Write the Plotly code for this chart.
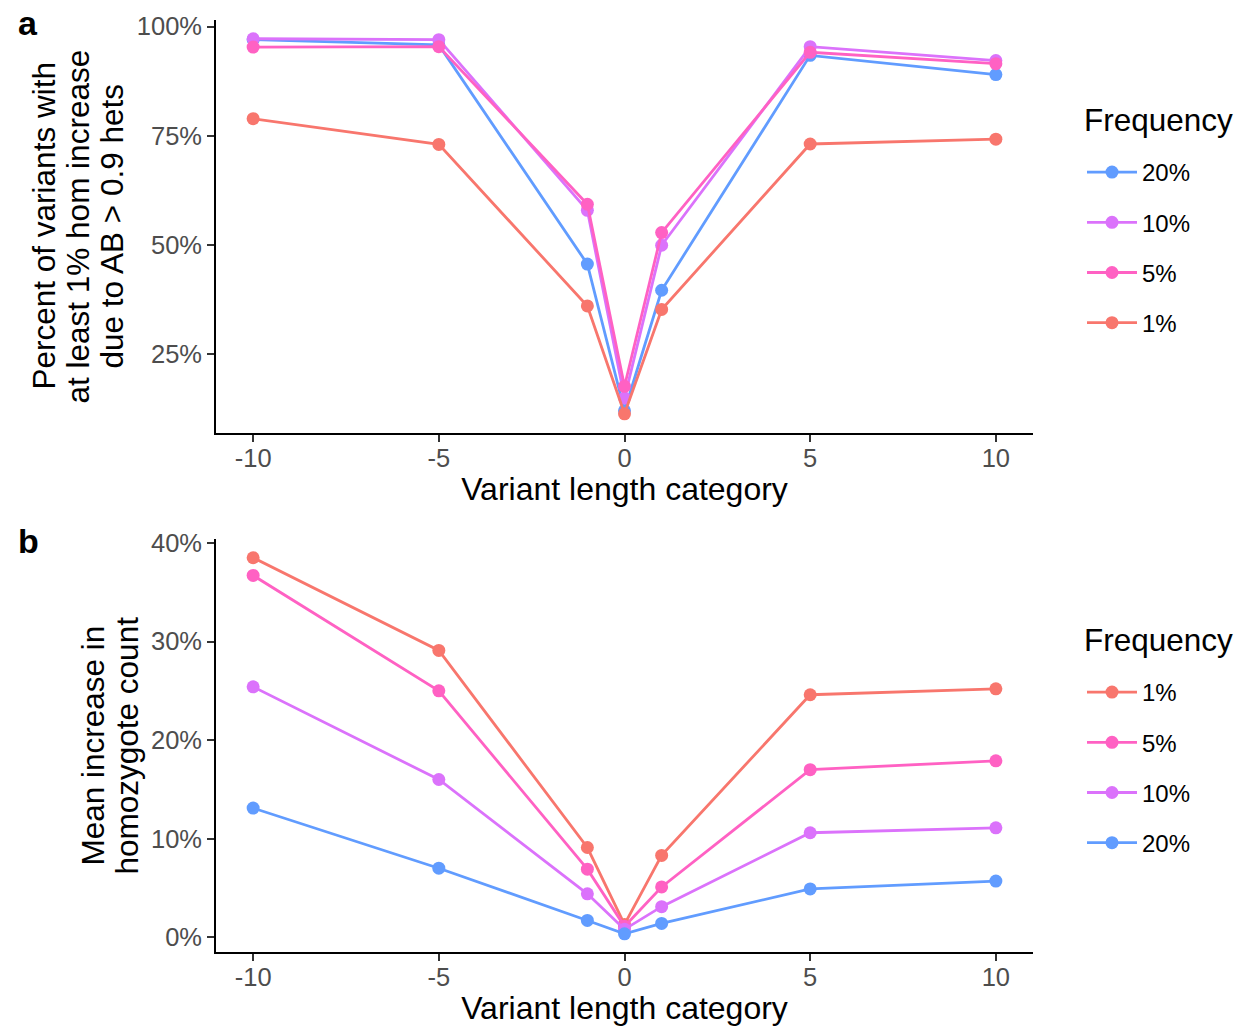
import plotly.graph_objects as go

# ---- data ----
x_cat = [-10, -5, -1, 0, 1, 5, 10]

colors = {"1%": "#F8766D", "5%": "#FF61C3", "10%": "#DB72FB", "20%": "#619CFF"}

# Panel a: percent of variants with at least 1% hom increase due to AB > 0.9 hets
pct_a_20 = [97.0, 95.8, 45.6, 12.0, 39.6, 93.4, 89.0]
pct_a_10 = [97.2, 97.0, 57.9, 14.9, 49.9, 95.4, 92.2]
pct_a_5 = [95.3, 95.4, 59.3, 17.6, 52.8, 94.1, 91.5]
pct_a_1 = [78.9, 73.0, 36.0, 11.3, 35.2, 73.1, 74.2]

# Panel b: mean increase in homozygote count
mean_b_1 = [38.5, 29.1, 9.1, 1.3, 8.3, 24.6, 25.2]
mean_b_5 = [36.7, 25.0, 6.9, 1.1, 5.1, 17.0, 17.9]
mean_b_10 = [25.4, 16.0, 4.4, 0.8, 3.1, 10.6, 11.1]
mean_b_20 = [13.1, 7.0, 1.7, 0.34, 1.4, 4.9, 5.7]

x_ticks = [-10, -5, 0, 5, 10]
ya_ticks = [25, 50, 75, 100]
yb_ticks = [0, 10, 20, 30, 40]

series_a = [("20%", pct_a_20), ("10%", pct_a_10), ("5%", pct_a_5), ("1%", pct_a_1)]
series_b = [("1%", mean_b_1), ("5%", mean_b_5), ("10%", mean_b_10), ("20%", mean_b_20)]

FONT = "Liberation Sans, Arial, sans-serif"
W, H = 1238, 1028

fig = go.Figure()
for name, vals in series_a:
    fig.add_trace(go.Scatter(
        x=x_cat, y=vals, mode="lines+markers", name=name,
        line=dict(color=colors[name], width=2.8),
        marker=dict(color=colors[name], size=13),
        xaxis="x", yaxis="y", legend="legend", legendgroup="a" + name))
for name, vals in series_b:
    fig.add_trace(go.Scatter(
        x=x_cat, y=vals, mode="lines+markers", name=name,
        line=dict(color=colors[name], width=2.8),
        marker=dict(color=colors[name], size=13),
        xaxis="x2", yaxis="y2", legend="legend2", legendgroup="b" + name))

x_l, x_r = 216 / W, 1033 / W
a_top, a_bot = 1 - 20 / H, 1 - 433 / H
b_top, b_bot = 1 - 539 / H, 1 - 952 / H

axis_common = dict(
    showgrid=False, zeroline=False, showline=True, linecolor="black", linewidth=1.8,
    ticks="outside", ticklen=7, tickwidth=1.5, tickcolor="#333333", automargin=False,
    tickfont=dict(family=FONT, size=25.5, color="#4D4D4D"),
)
xtitle = dict(text="Variant length category", font=dict(family=FONT, size=32), standoff=6)

fig.update_layout(
    width=W, height=H,
    margin=dict(l=0, r=0, t=0, b=0),
    paper_bgcolor="white", plot_bgcolor="white",
    font=dict(family=FONT, color="black"),
    xaxis=dict(domain=[x_l, x_r], anchor="y", range=[-11, 11],
               tickvals=x_ticks, ticktext=[str(v) for v in x_ticks],
               title=xtitle, ticklabelstandoff=-6, **axis_common),
    yaxis=dict(domain=[a_bot, a_top], anchor="x", range=[6.9, 101.5],
               tickvals=ya_ticks, ticktext=[f"{v}%" for v in ya_ticks], **axis_common),
    xaxis2=dict(domain=[x_l, x_r], anchor="y2", range=[-11, 11],
                tickvals=x_ticks, ticktext=[str(v) for v in x_ticks],
                title=xtitle, ticklabelstandoff=-6, **axis_common),
    yaxis2=dict(domain=[b_bot, b_top], anchor="x2", range=[-1.5, 40.4],
                tickvals=yb_ticks, ticktext=[f"{v}%" for v in yb_ticks], **axis_common),
    legend=dict(x=1082 / W, y=1 - 150 / H, xanchor="left", yanchor="top",
                font=dict(family=FONT, size=24), traceorder="grouped",
                tracegroupgap=16, itemwidth=50, bgcolor="rgba(0,0,0,0)"),
    legend2=dict(x=1082 / W, y=1 - 670 / H, xanchor="left", yanchor="top",
                 font=dict(family=FONT, size=24), traceorder="grouped",
                 tracegroupgap=16, itemwidth=50, bgcolor="rgba(0,0,0,0)"),
    showlegend=True,
)

# panel labels, legend titles and multi-line y titles
ann = [
    dict(text="<b>a</b>", x=16 / W, y=1 - 2 / H, xanchor="left", yanchor="top", font=dict(size=34)),
    dict(text="<b>b</b>", x=16 / W, y=1 - 520 / H, xanchor="left", yanchor="top", font=dict(size=34)),
    dict(text="Frequency", x=1082 / W, y=1 - 120 / H, xanchor="left", yanchor="middle", font=dict(size=31.5)),
    dict(text="Frequency", x=1082 / W, y=1 - 640 / H, xanchor="left", yanchor="middle", font=dict(size=31.5)),
]
ya_lines = ["Percent of variants with", "at least 1% hom increase", "due to AB > 0.9 hets"]
for i, t in enumerate(ya_lines):
    ann.append(dict(text=t, x=(43 + 34 * i) / W, y=(a_top + a_bot) / 2, textangle=-90,
                    xanchor="center", yanchor="middle", font=dict(size=31.5)))
yb_lines = ["Mean increase in", "homozygote count"]
for i, t in enumerate(yb_lines):
    ann.append(dict(text=t, x=(92 + 34 * i) / W, y=(b_top + b_bot) / 2, textangle=-90,
                    xanchor="center", yanchor="middle", font=dict(size=31.5)))
for a in ann:
    a.update(xref="paper", yref="paper", showarrow=False)
    a["font"] = dict(family=FONT, color="black", **a["font"])
fig.update_layout(annotations=ann)

fig.write_html("out.html", config={"displayModeBar": False},
               post_script="document.body.style.margin='0';")
